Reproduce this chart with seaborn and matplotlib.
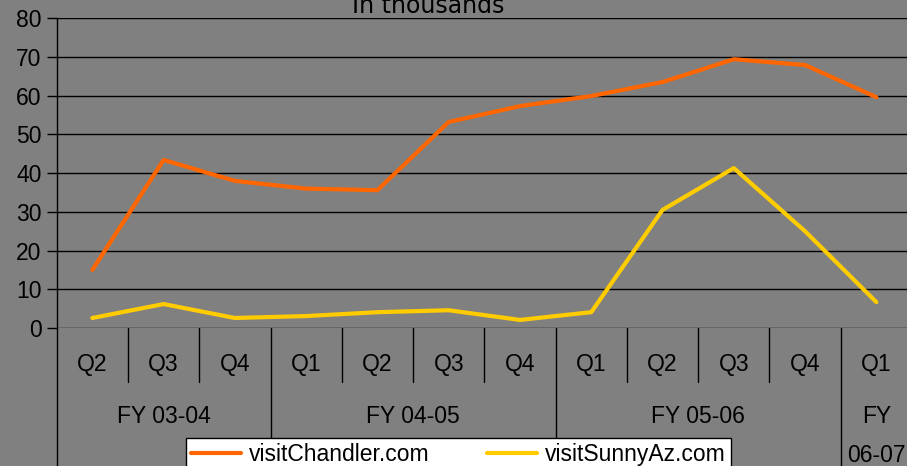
import matplotlib
matplotlib.use("Agg")
import matplotlib.pyplot as plt
import matplotlib.transforms as mtransforms
import pandas as pd
import seaborn as sns

# Données (en milliers)
quarters = ["Q2", "Q3", "Q4", "Q1", "Q2", "Q3", "Q4", "Q1", "Q2", "Q3", "Q4", "Q1"]
fiscal_years = ["FY 03-04", "FY 04-05", "FY 05-06", "FY\n06-07"]
fy_sizes = [3, 4, 4, 1]
chandler = [15.0, 43.4, 38.0, 36.0, 35.6, 53.2, 57.3, 59.9, 63.5, 69.4, 67.9, 59.6]
sunnyaz = [2.6, 6.2, 2.6, 3.1, 4.1, 4.6, 2.1, 4.1, 30.5, 41.3, 25.0, 6.7]
series_names = ["visitChandler.com", "visitSunnyAz.com"]
colors = ["#FF6600", "#FFCC00"]

df = pd.DataFrame({
    "pos": list(range(len(quarters))) * 2,
    "value": chandler + sunnyaz,
    "site": [series_names[0]] * len(chandler) + [series_names[1]] * len(sunnyaz),
})

sns.set_style("white")
plt.rcParams["font.family"] = ["Liberation Sans", "DejaVu Sans"]
plt.rcParams["text.color"] = "black"
plt.rcParams["ytick.color"] = "black"
plt.rcParams["ytick.labelcolor"] = "black"

FS = 16.5

fig = plt.figure(figsize=(9.07, 4.66), dpi=100, facecolor="#808080")
ax = fig.add_axes([0.0625, 0.296, 0.943, 0.665])
ax.set_facecolor("#808080")

sns.lineplot(data=df, x="pos", y="value", hue="site", palette=colors,
             linewidth=3, ax=ax, legend=False, zorder=3)

ax.set_xlim(-0.5, len(quarters) - 0.5)
ax.set_ylim(0, 80)
ax.set_yticks(range(0, 81, 10))
ax.grid(axis="y", color="black", linewidth=1)
ax.set_axisbelow(True)
for side in ["top", "right", "bottom"]:
    ax.spines[side].set_visible(False)
ax.spines["left"].set_color("black")
ax.spines["left"].set_linewidth(1)
ax.tick_params(axis="y", length=7, width=1, color="black", labelsize=FS, pad=4,
               left=True, labelcolor="black")
ax.set_xticks([])
ax.set_xlabel("")
ax.set_ylabel("")

# Axe des catégories à deux niveaux (trimestres / exercices)
trans = mtransforms.blended_transform_factory(ax.transData, ax.transAxes)
ax.plot([-0.5, -0.5], [0, -0.5], color="black", lw=1, transform=trans, clip_on=False)
for i, q in enumerate(quarters):
    ax.text(i, -0.116, q, transform=trans, ha="center", va="center", fontsize=FS)

start = 0
for fy, n in zip(fiscal_years, fy_sizes):
    end = start + n
    for b in range(start + 1, end):
        ax.plot([b - 0.5, b - 0.5], [0, -0.174], color="black", lw=1,
                transform=trans, clip_on=False)
    ax.plot([end - 0.5, end - 0.5], [0, -0.5], color="black", lw=1,
            transform=trans, clip_on=False)
    for k, line in enumerate(fy.split("\n")):
        ax.text((start + end - 1) / 2, -0.284 - k * 0.128, line, transform=trans,
                ha="center", va="center", fontsize=FS)
    start = end

fig.text(428 / 907, 1 - 13 / 466, "In thousands", ha="center", va="baseline",
         fontsize=17, family=["DejaVu Sans"])

handles = [plt.Line2D([], [], color=c, lw=3) for c in colors]
leg = fig.legend(handles, series_names, loc="upper left",
                 bbox_to_anchor=(186 / 907, 1 - 438 / 466), ncol=2,
                 fontsize=FS, frameon=True, fancybox=False, handlelength=2.2,
                 handletextpad=0.35, columnspacing=2.5, borderpad=0.2,
                 borderaxespad=0)
leg.get_frame().set_facecolor("white")
leg.get_frame().set_edgecolor("black")
leg.get_frame().set_linewidth(1)
leg.get_frame().set_alpha(1)

fig.savefig("out.png", dpi=100, facecolor=fig.get_facecolor())
